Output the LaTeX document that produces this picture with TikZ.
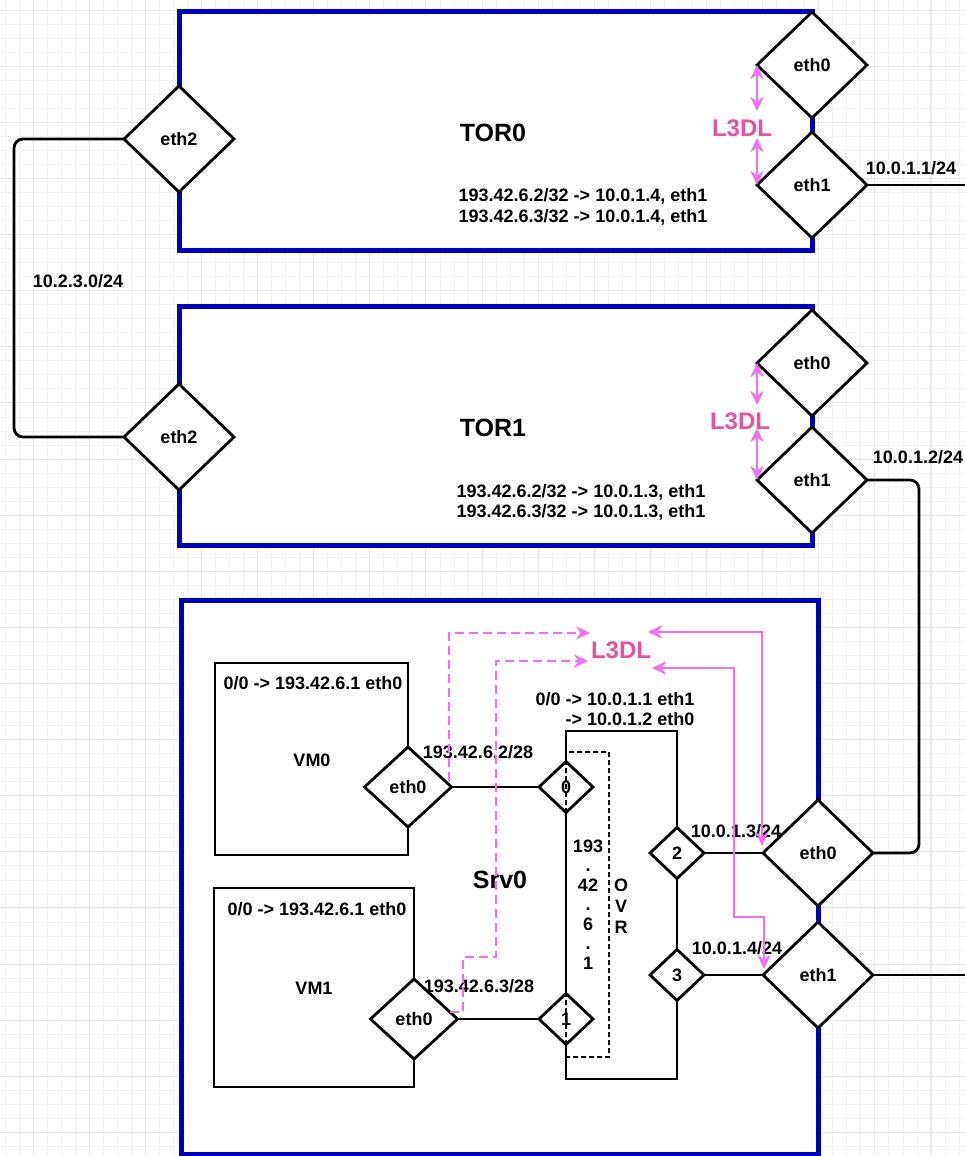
\documentclass[tikz,border=0pt]{standalone}
\usepackage{fontspec}
\setmainfont{Liberation Sans}
\usetikzlibrary{shapes.geometric,arrows.meta}
\definecolor{boxblue}{RGB}{0,0,185}
\definecolor{pinkl}{RGB}{242,110,242}
\definecolor{pinkt}{RGB}{228,84,156}
\definecolor{gridmaj}{RGB}{230,230,230}
\definecolor{gridmin}{RGB}{243,243,243}
\newcommand\smallf{\fontsize{18}{21}\selectfont\bfseries}
\newcommand\titlef{\fontsize{25}{29}\selectfont\bfseries}
\newcommand\lthreef{\fontsize{24}{28}\selectfont\bfseries}
\begin{document}
\begin{tikzpicture}[x=1pt,y=-1pt,
  bluebox/.style={draw=boxblue, line width=5pt, fill=white, outer sep=0pt, inner sep=0pt, anchor=north west},
  thinbox/.style={draw=black, line width=2.8pt, outer sep=0pt, inner sep=0pt, anchor=north west},
  port/.style={shape=diamond, draw=black, line width=2.8pt, fill=white, inner sep=0pt, outer sep=0pt,
     minimum width=110pt, minimum height=106pt, font=\smallf},
  vmport/.style={port, minimum width=87pt, minimum height=80pt},
  ovrport/.style={port, minimum width=54pt, minimum height=51pt},
  wire/.style={draw=black, line width=2.8pt},
  lbl/.style={font=\smallf, inner sep=0pt},
  ttl/.style={font=\titlef, inner sep=0pt},
  lthree/.style={font=\lthreef, text=pinkt, inner sep=0pt},
  parrow/.style={draw=pinkl, line width=2.6pt, {Stealth[length=14pt,width=13pt]}-{Stealth[length=14pt,width=13pt]}},
  pdash/.style={draw=pinkl, line width=2.6pt, dash pattern=on 9pt off 5pt, -{Stealth[length=14pt,width=13pt]}}
]
\useasboundingbox (0,0) rectangle (965,1156);
\fill[white] (0,0) rectangle (965,1156);
% grid
\foreach \i in {-2,...,66} {\draw[gridmin, line width=0.7pt] ({33+\i*14.03},0) -- ({33+\i*14.03},1156);}
\foreach \i in {0,...,81} {\draw[gridmin, line width=0.7pt] (0,{10+\i*14.03}) -- (965,{10+\i*14.03});}
\foreach \i in {0,...,16} {\draw[gridmaj, line width=0.9pt] ({33+\i*56.12},0) -- ({33+\i*56.12},1156);}
\foreach \i in {0,...,20} {\draw[gridmaj, line width=0.9pt] (0,{10+\i*56.12}) -- (965,{10+\i*56.12});}

% big boxes
\node[bluebox, minimum width=633pt, minimum height=238pt] (tor0) at (179,12) {};
\node[bluebox, minimum width=633pt, minimum height=239pt] (tor1) at (179,306) {};
\node[bluebox, minimum width=637pt, minimum height=554pt] (srv0) at (181,600) {};

% inner boxes
\node[thinbox, minimum width=193pt, minimum height=192pt] (vm0) at (215,663) {};
\node[thinbox, minimum width=200pt, minimum height=199pt] (vm1) at (214,888) {};
\node[thinbox, minimum width=111pt, minimum height=348pt] (ovr) at (566,731) {};

% texts
\node[ttl] (t0) at (493,133) {TOR0};
\node[lbl] (r0a) at (583,196) {193.42.6.2/32 -> 10.0.1.4, eth1};
\node[lbl] (r0b) at (583,217) {193.42.6.3/32 -> 10.0.1.4, eth1};
\node[ttl] (t1) at (493,428) {TOR1};
\node[lbl] (r1a) at (581,492) {193.42.6.2/32 -> 10.0.1.3, eth1};
\node[lbl] (r1b) at (581,512) {193.42.6.3/32 -> 10.0.1.3, eth1};
\node[ttl] (ts) at (500,880) {Srv0};
\node[lbl] (v0r) at (313,683) {0/0 -> 193.42.6.1 eth0};
\node[lbl] (v0t) at (312,760) {VM0};
\node[lbl] (v1r) at (317,909) {0/0 -> 193.42.6.1 eth0};
\node[lbl] (v1t) at (314,988) {VM1};
\node[lbl] (or1) at (615,699) {0/0 -> 10.0.1.1 eth1};
\node[lbl] (or2) at (630,719) {-> 10.0.1.2 eth0};
\node[lbl] (ip2) at (478,752) {193.42.6.2/28};
\node[lbl] (ip3) at (479,986) {193.42.6.3/28};
\node[lbl] (ip13) at (736,831) {10.0.1.3/24};
\node[lbl] (ip14) at (737,948) {10.0.1.4/24};
\node[lbl] (ip11) at (911,168) {10.0.1.1/24};
\node[lbl] (ip12) at (918,457) {10.0.1.2/24};
\node[lbl] (ip23) at (78,281) {10.2.3.0/24};
\node[lbl, align=center, font=\fontsize{18}{19.5}\selectfont\bfseries] (ovrip) at (588,904.5) {193\\.\\42\\.\\6\\.\\1};
\node[lbl, align=center, font=\fontsize{18}{21}\selectfont\bfseries] (ovrt) at (621,906) {O\\V\\R};

% ports
\node[port] (t0e2) at (179,139) {eth2};
\node[port] (t0e0) at (812,65) {eth0};
\node[port] (t0e1) at (812,185) {eth1};
\node[port] (t1e2) at (179,437) {eth2};
\node[port] (t1e0) at (812,363) {eth0};
\node[port] (t1e1) at (812,480) {eth1};
\node[port] (se0) at (818,853) {eth0};
\node[port] (se1) at (818,975) {eth1};
\node[vmport] (v0e) at (408,787) {eth0};
\node[vmport] (v1e) at (414,1019) {eth0};
\node[ovrport] (d0) at (566,787) {0};
\node[ovrport] (d1) at (566,1019) {1};
\node[ovrport] (d2) at (677,853) {2};
\node[ovrport] (d3) at (677,975) {3};

% dashed OVR box
\draw[black, line width=1.4pt, dash pattern=on 5pt off 3pt] (566,752) rectangle (609,1057);

% wires
\coordinate (ra) at (965,185);
\coordinate (rb) at (965,975);
\draw[wire, rounded corners=9pt] (t0e2.west) -- (14,139) -- (14,437) -- (t1e2.west);
\draw[wire] (t0e1.east) -- (ra);
\draw[wire, rounded corners=9pt] (t1e1.east) -- (919,480) -- (919,853) -- (se0.east);
\draw[wire] (se1.east) -- (rb);
\draw[wire] (v0e.east) -- (d0.west);
\draw[wire] (v1e.east) -- (d1.west);
\draw[wire] (d2.east) -- (se0.west);
\draw[wire] (d3.east) -- (se1.west);

% L3DL labels
\node[lthree] (l0) at (742,128) {L3DL};
\node[lthree] (l1) at (740,421) {L3DL};
\node[lthree] (l2) at (621,650) {L3DL};

% pink arrows TOR
\coordinate (a0) at (757,111);
\coordinate (a1) at (757,138);
\coordinate (a2) at (757,405);
\coordinate (a3) at (757,428);
\draw[parrow] (t0e0.west) -- (a0);
\draw[parrow] (a1) -- (t0e1.west);
\draw[parrow] (t1e0.west) -- (a2);
\draw[parrow] (a3) -- (t1e1.west);

% pink arrows Srv0
\coordinate (ca) at (648,632);
\coordinate (cb) at (762,846);
\draw[parrow] (ca) -- (762,632) -- (cb);
\coordinate (da) at (652,668);
\coordinate (db) at (764,969);
\draw[parrow] (da) -- (734,668) -- (734,917) -- (764,917) -- (db);
\coordinate (pa) at (449,781);
\coordinate (pb) at (590,633);
\draw[pdash] (pa) -- (449,633) -- (pb);
\coordinate (qa) at (450,1012);
\coordinate (qb) at (588,661);
\draw[pdash] (qa) -- (463,1012) -- (463,957) -- (496,957) -- (496,661) -- (qb);
\end{tikzpicture}
\end{document}
